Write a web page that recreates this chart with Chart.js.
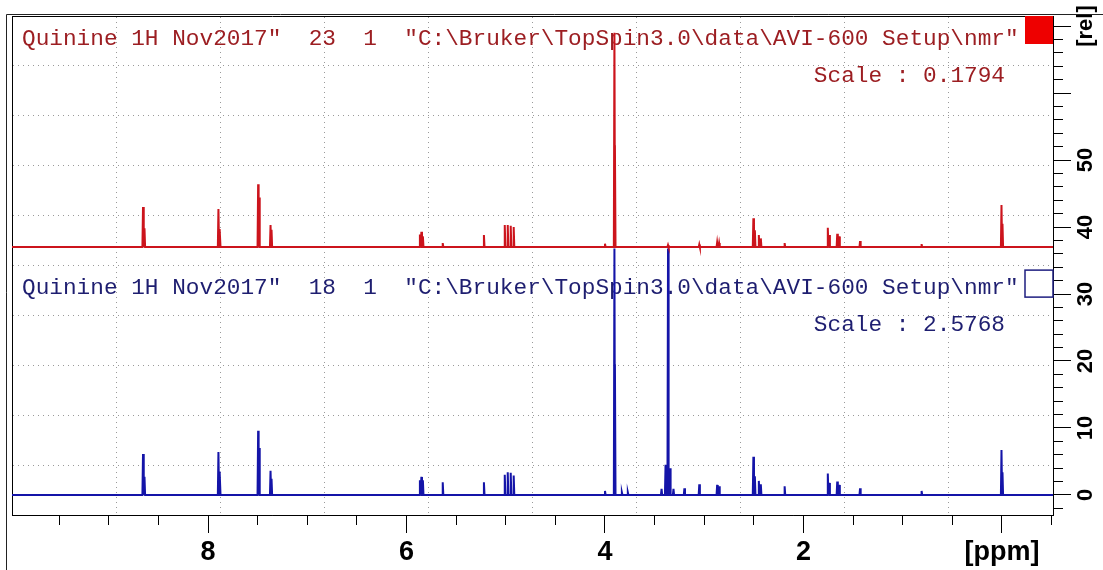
<!DOCTYPE html>
<html>
<head>
<meta charset="utf-8">
<script src="https://cdn.jsdelivr.net/npm/chart.js@4.4.0/dist/chart.umd.min.js"></script>
<style>
  html, body { margin: 0; padding: 0; background: #fff; }
</style>
</head>
<body>
<canvas id="nmr" width="1103" height="570"></canvas>
<script>
"use strict";

// peak positions (ppm, descending) and heights above each baseline [rel]
const peakPpm = [8.655, 8.64, 7.895, 7.88, 7.495, 7.485, 7.37, 7.36, 5.865, 5.85, 5.835, 5.635, 5.22,
                 5.01, 4.98, 4.95, 4.92, 4.00, 3.905, 3.90, 3.83, 3.77, 3.43, 3.39, 3.365, 3.345, 3.31,
                 3.20, 3.05, 2.87, 2.85, 2.505, 2.49, 2.45, 2.43, 2.19, 1.755, 1.74, 1.66, 1.64, 1.43,
                 0.81, 0.005, -0.005];
const redHeight = [6.0, 2.8, 5.7, 2.7, 9.4, 7.4, 3.3, 2.6, 1.9, 2.3, 1.6, 0.6, 1.8,
                   3.3, 3.3, 3.2, 3.0, 0.5, 32.0, 15.2, 0, 0, 0, 0, 0.3, 0, 0,
                   0, 0.4, 0.7, 0.6, 4.3, 2.5, 1.8, 1.3, 0.6, 2.9, 1.8, 2.0, 1.6, 0.9,
                   0.45, 6.3, 3.5];
const blueHeight = [6.1, 2.7, 6.4, 3.5, 9.6, 7.0, 3.6, 2.4, 2.2, 2.7, 2.2, 1.9, 1.9,
                    3.0, 3.4, 3.3, 2.9, 0.6, 36.8, 19.5, 0.4, 0.4, 0.9, 4.5, 36.8, 4.0, 0.9,
                    1.0, 1.6, 1.5, 1.3, 5.7, 2.8, 2.1, 1.6, 1.3, 3.2, 1.8, 2.0, 1.5, 1.0,
                    0.6, 6.7, 3.4];
const redBase = 37.0;
const blueBase = 0;

const ppmRange = [-0.514, 9.975];
const relRange = [-2.99, 71.5];
const ppmTickValues = [8, 6, 4, 2, 0];
const ppmTickLabels = ["8", "6", "4", "2", "[ppm]"];
const relTickValues = [0, 10, 20, 30, 40, 50, 60, 70];
const relTickLabels = ["0", "10", "20", "30", "40", "50", "", "[rel]"];

const redTitle = 'Quinine 1H Nov2017"  23  1  "C:\\Bruker\\TopSpin3.0\\data\\AVI-600 Setup\\nmr"';
const blueTitle = 'Quinine 1H Nov2017"  18  1  "C:\\Bruker\\TopSpin3.0\\data\\AVI-600 Setup\\nmr"';
const redScale = "Scale : 0.1794";
const blueScale = "Scale : 2.5768";

const RED = "#cc141c";
const BLUE = "#1414a8";
const RED_TEXT = "#9c1e22";
const BLUE_TEXT = "#1e1e70";

function spectrum(base, heights) {
    const pts = [{x: ppmRange[1], y: base}];
    peakPpm.forEach((p, i) => {
        const h = heights[i];
        if (!h) return;
        pts.push({x: p + 0.006, y: base}, {x: p, y: base + h}, {x: p - 0.006, y: base});
    });
    pts.push({x: ppmRange[0], y: base});
    return pts;
}

const monoFont = "22.75px 'Liberation Mono', 'DejaVu Sans Mono', monospace";

// titles, scale factors and the two colour squares
const annotate = {
    id: "annotate",
    beforeDatasetsDraw(chart) {
        const {ctx, chartArea: a, scales: {y}} = chart;
        const split = y.getPixelForValue(redBase);
        ctx.save();
        ctx.font = monoFont;
        ctx.textBaseline = "middle";
        ctx.textAlign = "left";
        ctx.fillStyle = RED_TEXT;
        ctx.fillText(redTitle, a.left + 10, a.top + 23);
        ctx.textAlign = "right";
        ctx.fillText(redScale, a.right - 48, a.top + 60);
        ctx.fillStyle = BLUE_TEXT;
        ctx.textAlign = "left";
        ctx.fillText(blueTitle, a.left + 10, split + 41);
        ctx.textAlign = "right";
        ctx.fillText(blueScale, a.right - 48, split + 78);
        ctx.restore();
    },
    afterDraw(chart) {
        const {ctx, chartArea: a, scales: {y}} = chart;
        const split = y.getPixelForValue(redBase);
        ctx.save();
        ctx.fillStyle = "#ee0000";
        ctx.fillRect(a.right - 28, a.top, 28, 28);
        ctx.strokeStyle = "#1e1e80";
        ctx.lineWidth = 1.5;
        ctx.strokeRect(a.right - 28, split + 23, 28, 27);
        ctx.strokeStyle = "#222";
        ctx.lineWidth = 1;
        ctx.beginPath();
        ctx.moveTo(6.5, a.top - 1.5);
        ctx.lineTo(6.5, chart.height);
        ctx.moveTo(6.5, a.top - 1.5);
        ctx.lineTo(chart.width, a.top - 1.5);
        ctx.stroke();
        ctx.restore();
    }
};

const gridColor = (c) => (c.index === 0 || c.index === 10) ? "rgba(0,0,0,0)" : "#9a9a9a";

new Chart(document.getElementById("nmr"), {
    type: "line",
    data: {
        datasets: [{
            label: "23",
            data: spectrum(redBase, redHeight),
            borderColor: RED,
            borderWidth: 2,
            pointRadius: 0,
            tension: 0,
            xAxisID: "x",
            yAxisID: "y"
        }, {
            label: "18",
            data: spectrum(blueBase, blueHeight),
            borderColor: BLUE,
            borderWidth: 2,
            pointRadius: 0,
            tension: 0,
            xAxisID: "x",
            yAxisID: "y"
        }]
    },
    options: {
        responsive: false,
        animation: false,
        layout: { padding: { left: 12, top: 16, right: 0, bottom: 0 } },
        plugins: { legend: { display: false }, tooltip: { enabled: false } },
        scales: {
            gx: {
                axis: "x", type: "linear", position: "top", min: 0, max: 10, weight: 0,
                ticks: { display: false, stepSize: 1 },
                grid: { drawTicks: false, color: gridColor, lineWidth: 1 },
                border: { display: true, color: "#000", dash: [1, 4] },
                afterFit: (s) => { s.height = 0; }
            },
            gy: {
                axis: "y", type: "linear", position: "left", min: 0, max: 10, weight: 0,
                ticks: { display: false, stepSize: 1 },
                grid: { drawTicks: false, color: gridColor, lineWidth: 1 },
                border: { display: true, color: "#000", dash: [1, 4] },
                afterFit: (s) => { s.width = 0; }
            },
            x: {
                type: "linear", position: "bottom", reverse: true, weight: 0,
                min: ppmRange[0], max: ppmRange[1],
                ticks: { display: false, stepSize: 0.5, includeBounds: false },
                grid: { drawOnChartArea: false, tickLength: 10, color: "#000" },
                border: { color: "#000" },
                afterFit: (s) => { s.height = 0; }
            },
            xMajor: {
                axis: "x", type: "linear", position: "bottom", reverse: true, weight: 1,
                min: ppmRange[0], max: ppmRange[1],
                afterBuildTicks: (s) => { s.ticks = ppmTickValues.map(v => ({value: v})); },
                ticks: {
                    autoSkip: false, maxRotation: 0, padding: 3, color: "#000",
                    font: { family: "'Liberation Sans', Arial, sans-serif", size: 27, weight: "bold" },
                    callback: (v) => ppmTickLabels[ppmTickValues.indexOf(v)]
                },
                grid: { drawOnChartArea: false, tickLength: 18, color: "#000" },
                border: { color: "#000" },
                afterFit: (s) => { s.height = 55; }
            },
            y: {
                type: "linear", position: "right", weight: 0,
                min: relRange[0], max: relRange[1],
                ticks: { display: false, stepSize: 2, includeBounds: false },
                grid: { drawOnChartArea: false, tickLength: 10, color: "#000" },
                border: { color: "#000" },
                afterFit: (s) => { s.width = 0; }
            },
            yMajor: {
                axis: "y", type: "linear", position: "right", weight: 1,
                min: relRange[0], max: relRange[1],
                afterBuildTicks: (s) => { s.ticks = relTickValues.map(v => ({value: v})); },
                ticks: {
                    autoSkip: false, minRotation: 90, maxRotation: 90, crossAlign: "center",
                    padding: -6, color: "#000",
                    font: { family: "'Liberation Sans', Arial, sans-serif", size: 22, weight: "bold" },
                    callback: (v) => relTickLabels[relTickValues.indexOf(v)]
                },
                grid: { drawOnChartArea: false, tickLength: 18, color: "#000" },
                border: { color: "#000" },
                afterFit: (s) => { s.width = 50; }
            }
        }
    },
    plugins: [annotate]
});
</script>
</body>
</html>
